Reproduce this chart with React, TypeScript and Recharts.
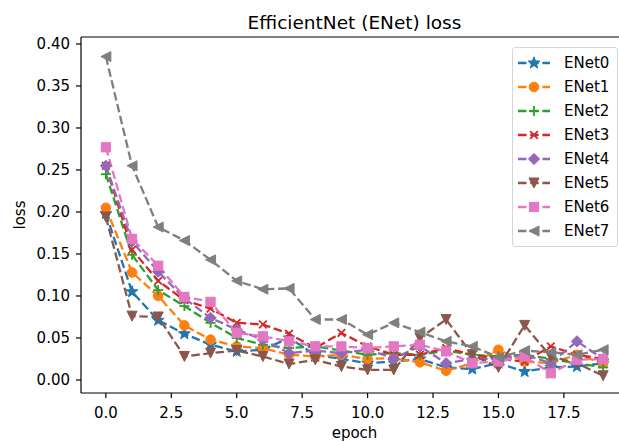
import React from 'react';
import { LineChart, Line, XAxis, YAxis, Legend, ReferenceLine } from 'recharts';

const EPOCHS = [0, 1, 2, 3, 4, 5, 6, 7, 8, 9, 10, 11, 12, 13, 14, 15, 16, 17, 18, 19];

const ENET0 = [0.198, 0.105, 0.071, 0.055, 0.042, 0.034, 0.036, 0.05, 0.03, 0.025, 0.02, 0.022, 0.025, 0.015, 0.013, 0.02, 0.01, 0.015, 0.016, 0.02];
const ENET1 = [0.205, 0.128, 0.1, 0.065, 0.048, 0.04, 0.038, 0.03, 0.028, 0.03, 0.025, 0.026, 0.021, 0.011, 0.02, 0.036, 0.022, 0.02, 0.03, 0.02];
const ENET2 = [0.245, 0.149, 0.107, 0.088, 0.068, 0.05, 0.042, 0.038, 0.04, 0.035, 0.03, 0.032, 0.03, 0.035, 0.03, 0.028, 0.03, 0.025, 0.02, 0.015];
const ENET3 = [0.255, 0.155, 0.118, 0.095, 0.085, 0.068, 0.066, 0.055, 0.038, 0.056, 0.04, 0.03, 0.03, 0.038, 0.03, 0.025, 0.022, 0.04, 0.03, 0.025];
const ENET4 = [0.255, 0.165, 0.129, 0.097, 0.074, 0.06, 0.048, 0.032, 0.035, 0.032, 0.036, 0.026, 0.04, 0.02, 0.025, 0.025, 0.03, 0.02, 0.046, 0.025];
const ENET5 = [0.194, 0.076, 0.075, 0.028, 0.032, 0.035, 0.028, 0.019, 0.024, 0.016, 0.012, 0.012, 0.05, 0.072, 0.03, 0.015, 0.065, 0.028, 0.02, 0.005];
const ENET6 = [0.277, 0.168, 0.136, 0.099, 0.093, 0.056, 0.052, 0.046, 0.04, 0.04, 0.038, 0.04, 0.042, 0.034, 0.02, 0.022, 0.028, 0.008, 0.024, 0.025];
const ENET7 = [0.385, 0.255, 0.182, 0.166, 0.143, 0.118, 0.108, 0.109, 0.072, 0.072, 0.054, 0.068, 0.057, 0.046, 0.04, 0.027, 0.035, 0.033, 0.03, 0.036];

const X_TICKS = [0, 2.5, 5, 7.5, 10, 12.5, 15, 17.5];
const Y_TICKS = [0, 0.05, 0.1, 0.15, 0.2, 0.25, 0.3, 0.35, 0.4];
const Y_MIN = -0.0155;
const Y_MAX = 0.4083;

const SERIES = [
  { key: 'ENet0', values: ENET0, color: '#1f77b4', shape: 'star' },
  { key: 'ENet1', values: ENET1, color: '#ff7f0e', shape: 'circle' },
  { key: 'ENet2', values: ENET2, color: '#2ca02c', shape: 'plus' },
  { key: 'ENet3', values: ENET3, color: '#d62728', shape: 'x' },
  { key: 'ENet4', values: ENET4, color: '#9467bd', shape: 'diamond' },
  { key: 'ENet5', values: ENET5, color: '#8c564b', shape: 'tdown' },
  { key: 'ENet6', values: ENET6, color: '#e377c2', shape: 'square' },
  { key: 'ENet7', values: ENET7, color: '#7f7f7f', shape: 'tleft' },
];

const data = EPOCHS.map((epoch, i) => {
  const row: Record<string, number> = { epoch };
  SERIES.forEach(s => {
    row[s.key] = s.values[i];
  });
  return row;
});

const FONT = '"DejaVu Sans", sans-serif';
const DASH = '8.5 3.7';

function poly(pts: number[][]) {
  return pts.map(p => `${p[0].toFixed(2)},${p[1].toFixed(2)}`).join(' ');
}

function Marker({ shape, cx, cy, color }: { shape: string; cx: number; cy: number; color: string }) {
  if (cx == null || cy == null) return null;
  switch (shape) {
    case 'star': {
      const pts: number[][] = [];
      for (let k = 0; k < 10; k++) {
        const r = k % 2 === 0 ? 6.2 : 2.6;
        const a = -Math.PI / 2 + (k * Math.PI) / 5;
        pts.push([cx + r * Math.cos(a), cy + r * Math.sin(a)]);
      }
      return <polygon points={poly(pts)} fill={color} stroke={color} strokeWidth={1} />;
    }
    case 'circle':
      return <circle cx={cx} cy={cy} r={4.8} fill={color} stroke={color} strokeWidth={1} />;
    case 'plus':
      return (
        <g stroke={color} strokeWidth={1.8}>
          <line x1={cx - 5} y1={cy} x2={cx + 5} y2={cy} />
          <line x1={cx} y1={cy - 5} x2={cx} y2={cy + 5} />
        </g>
      );
    case 'x':
      return (
        <g stroke={color} strokeWidth={1.8}>
          <line x1={cx - 3.8} y1={cy - 3.8} x2={cx + 3.8} y2={cy + 3.8} />
          <line x1={cx - 3.8} y1={cy + 3.8} x2={cx + 3.8} y2={cy - 3.8} />
        </g>
      );
    case 'diamond':
      return (
        <polygon
          points={poly([[cx, cy - 5.6], [cx + 5.6, cy], [cx, cy + 5.6], [cx - 5.6, cy]])}
          fill={color}
          stroke={color}
          strokeWidth={1}
        />
      );
    case 'tdown':
      return (
        <polygon
          points={poly([[cx - 5, cy - 5], [cx + 5, cy - 5], [cx, cy + 5]])}
          fill={color}
          stroke={color}
          strokeWidth={1}
        />
      );
    case 'tleft':
      return (
        <polygon
          points={poly([[cx + 5, cy - 5], [cx + 5, cy + 5], [cx - 5, cy]])}
          fill={color}
          stroke={color}
          strokeWidth={1}
        />
      );
    case 'square':
    default:
      return <rect x={cx - 4.6} y={cy - 4.6} width={9.2} height={9.2} fill={color} stroke={color} strokeWidth={1} />;
  }
}

const renderDot = (shape: string, color: string, name: string) => (props: any) => (
  <Marker key={`${name}-${props.index}`} shape={shape} cx={props.cx} cy={props.cy} color={color} />
);

const CustomLegend = () => (
  <div
    style={{
      boxSizing: 'border-box',
      width: 106,
      height: 200,
      paddingTop: 3,
      background: 'rgba(255,255,255,0.8)',
      border: '1px solid #d6d6d6',
      borderRadius: 3,
      fontFamily: FONT,
      fontSize: 15,
      color: '#000',
    }}
  >
    {SERIES.map(s => (
      <div key={s.key} style={{ display: 'flex', alignItems: 'center', height: 24 }}>
        <svg width={32} height={16} style={{ marginLeft: 5, marginRight: 14 }}>
          <line x1={0} y1={8} x2={32} y2={8} stroke={s.color} strokeWidth={2.3} strokeDasharray={DASH} />
          <Marker shape={s.shape} cx={16} cy={8} color={s.color} />
        </svg>
        <span>{s.key}</span>
      </div>
    ))}
  </div>
);

export default function App() {
  return (
    <div
      style={{
        position: 'absolute',
        left: 0,
        top: 0,
        width: 619,
        height: 442,
        overflow: 'hidden',
        background: '#fff',
      }}
    >
      <LineChart width={640} height={460} data={data} margin={{ top: 37, right: 12, left: 0, bottom: 27 }}>
        <XAxis
          dataKey="epoch"
          type="number"
          domain={[-0.95, 19.95]}
          ticks={X_TICKS}
          allowDataOverflow
          height={40}
          tickFormatter={(v: number) => v.toFixed(1)}
          tick={{ fill: '#000', fontSize: 15, fontFamily: FONT }}
          tickSize={5}
          tickMargin={9}
          axisLine={{ stroke: '#000', strokeWidth: 1.2 }}
          tickLine={{ stroke: '#000', strokeWidth: 1.2 }}
          label={{
            content: (p: any) => {
              const vb = p.viewBox;
              return (
                <text x={vb.x + vb.width / 2} y={vb.y + 45} textAnchor="middle" fontFamily={FONT} fontSize={15} fill="#000">
                  epoch
                </text>
              );
            },
          }}
        />
        <YAxis
          type="number"
          domain={[Y_MIN, Y_MAX]}
          ticks={Y_TICKS}
          allowDataOverflow
          width={81}
          tickFormatter={(v: number) => v.toFixed(2)}
          tick={{ fill: '#000', fontSize: 15, fontFamily: FONT }}
          tickSize={5}
          tickMargin={6}
          axisLine={{ stroke: '#000', strokeWidth: 1.2 }}
          tickLine={{ stroke: '#000', strokeWidth: 1.2 }}
          label={{
            content: (p: any) => {
              const vb = p.viewBox;
              const cy = vb.y + vb.height / 2;
              return (
                <text x={25} y={cy} textAnchor="middle" transform={`rotate(-90, 25, ${cy})`} fontFamily={FONT} fontSize={15} fill="#000">
                  loss
                </text>
              );
            },
          }}
        />
        <ReferenceLine
          y={Y_MAX}
          stroke="#000"
          strokeWidth={1.2}
          ifOverflow="visible"
          label={{
            content: (p: any) => {
              const vb = p.viewBox;
              return (
                <text x={vb.x + vb.width / 2} y={vb.y - 8} textAnchor="middle" fontFamily={FONT} fontSize={18.5} fill="#000">
                  EfficientNet (ENet) loss
                </text>
              );
            },
          }}
        />
        <Legend
          layout="vertical"
          align="center"
          verticalAlign="middle"
          content={<CustomLegend />}
          wrapperStyle={{ position: 'absolute', left: 512, top: 47, width: 106, height: 200 }}
        />
        {SERIES.map(s => (
          <Line
            key={s.key}
            dataKey={s.key}
            name={s.key}
            stroke={s.color}
            strokeWidth={2.3}
            strokeDasharray={DASH}
            dot={renderDot(s.shape, s.color, s.key)}
            activeDot={false}
            isAnimationActive={false}
          />
        ))}
      </LineChart>
    </div>
  );
}
